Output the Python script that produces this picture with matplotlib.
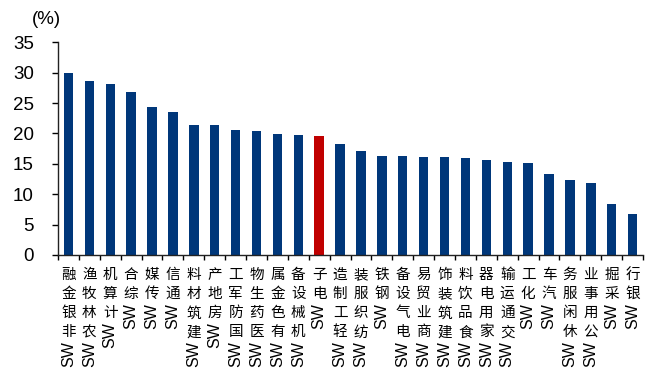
import matplotlib
matplotlib.use("Agg")
import matplotlib.pyplot as plt
import numpy as np

# industry names (SW level-1) and their values in %
industries = ["非银金融", "农林牧渔", "计算机", "综合", "传媒", "通信",
              "建筑材料", "房地产", "国防军工", "医药生物", "有色金属", "机械设备",
              "电子", "轻工制造", "纺织服装", "钢铁", "电气设备", "商业贸易",
              "建筑装饰", "食品饮料", "家用电器", "交通运输", "化工", "汽车",
              "休闲服务", "公用事业", "采掘", "银行"]
values = [29.9, 28.7, 28.1, 26.8, 24.3, 23.5,
          21.4, 21.35, 20.6, 20.45, 19.85, 19.75,
          19.6, 18.25, 17.05, 16.3, 16.25, 16.1,
          16.1, 15.95, 15.55, 15.35, 15.1, 13.4,
          12.3, 11.85, 8.4, 6.75]
highlight = "电子"
yticks = [0, 5, 10, 15, 20, 25, 30, 35]

navy = "#00377A"
red = "#C00000"
colors = [red if name == highlight else navy for name in industries]

fig = plt.figure(figsize=(6.53, 3.76), dpi=100)
ax = fig.add_axes([0.0888, 0.322, 0.896, 0.5655])

x = np.arange(len(industries))
ax.bar(x, values, width=0.45, color=colors, zorder=2)

ax.set_xlim(-0.5, len(industries) - 0.5)
ax.set_ylim(0, 35)
ax.set_yticks(yticks)
ax.set_yticklabels([str(v) for v in yticks], fontsize=13.5, family="Liberation Sans")
ax.tick_params(axis="y", length=4.3, width=1, pad=13, direction="out")

# ticks sit on category boundaries, labels are drawn by hand below
ax.set_xticks(np.arange(len(industries) + 1) - 0.5)
ax.set_xticklabels([])
ax.tick_params(axis="x", length=3.6, width=1, direction="out")

for s in ["top", "right"]:
    ax.spines[s].set_visible(False)
for s in ["left", "bottom"]:
    ax.spines[s].set_linewidth(1)
    ax.spines[s].set_color("#222222")

# labels: Chinese characters stacked upright from the top, "SW" rotated at the bottom
first = 14.4
step = 13.8
for i, name in enumerate(industries):
    chars = list(name)[::-1]
    for j, ch in enumerate(chars):
        ax.annotate(ch, xy=(i, 0), xycoords=("data", "axes fraction"),
                    xytext=(0, -(first + step * j)), textcoords="offset points",
                    ha="center", va="center", fontsize=10.5,
                    family="Noto Sans CJK SC", annotation_clip=False)
    ax.annotate("SW", xy=(i, 0), xycoords=("data", "axes fraction"),
                xytext=(0, -(first + step * (len(chars) - 1) + 15.5)),
                textcoords="offset points", rotation=90,
                ha="center", va="center", fontsize=11.5,
                family="Liberation Sans", annotation_clip=False)

fig.text(32 / 653, 1 - 19.5 / 376, "(%)", fontsize=13.5, family="Liberation Sans",
         ha="left", va="center")

fig.savefig("out.png", dpi=100)
